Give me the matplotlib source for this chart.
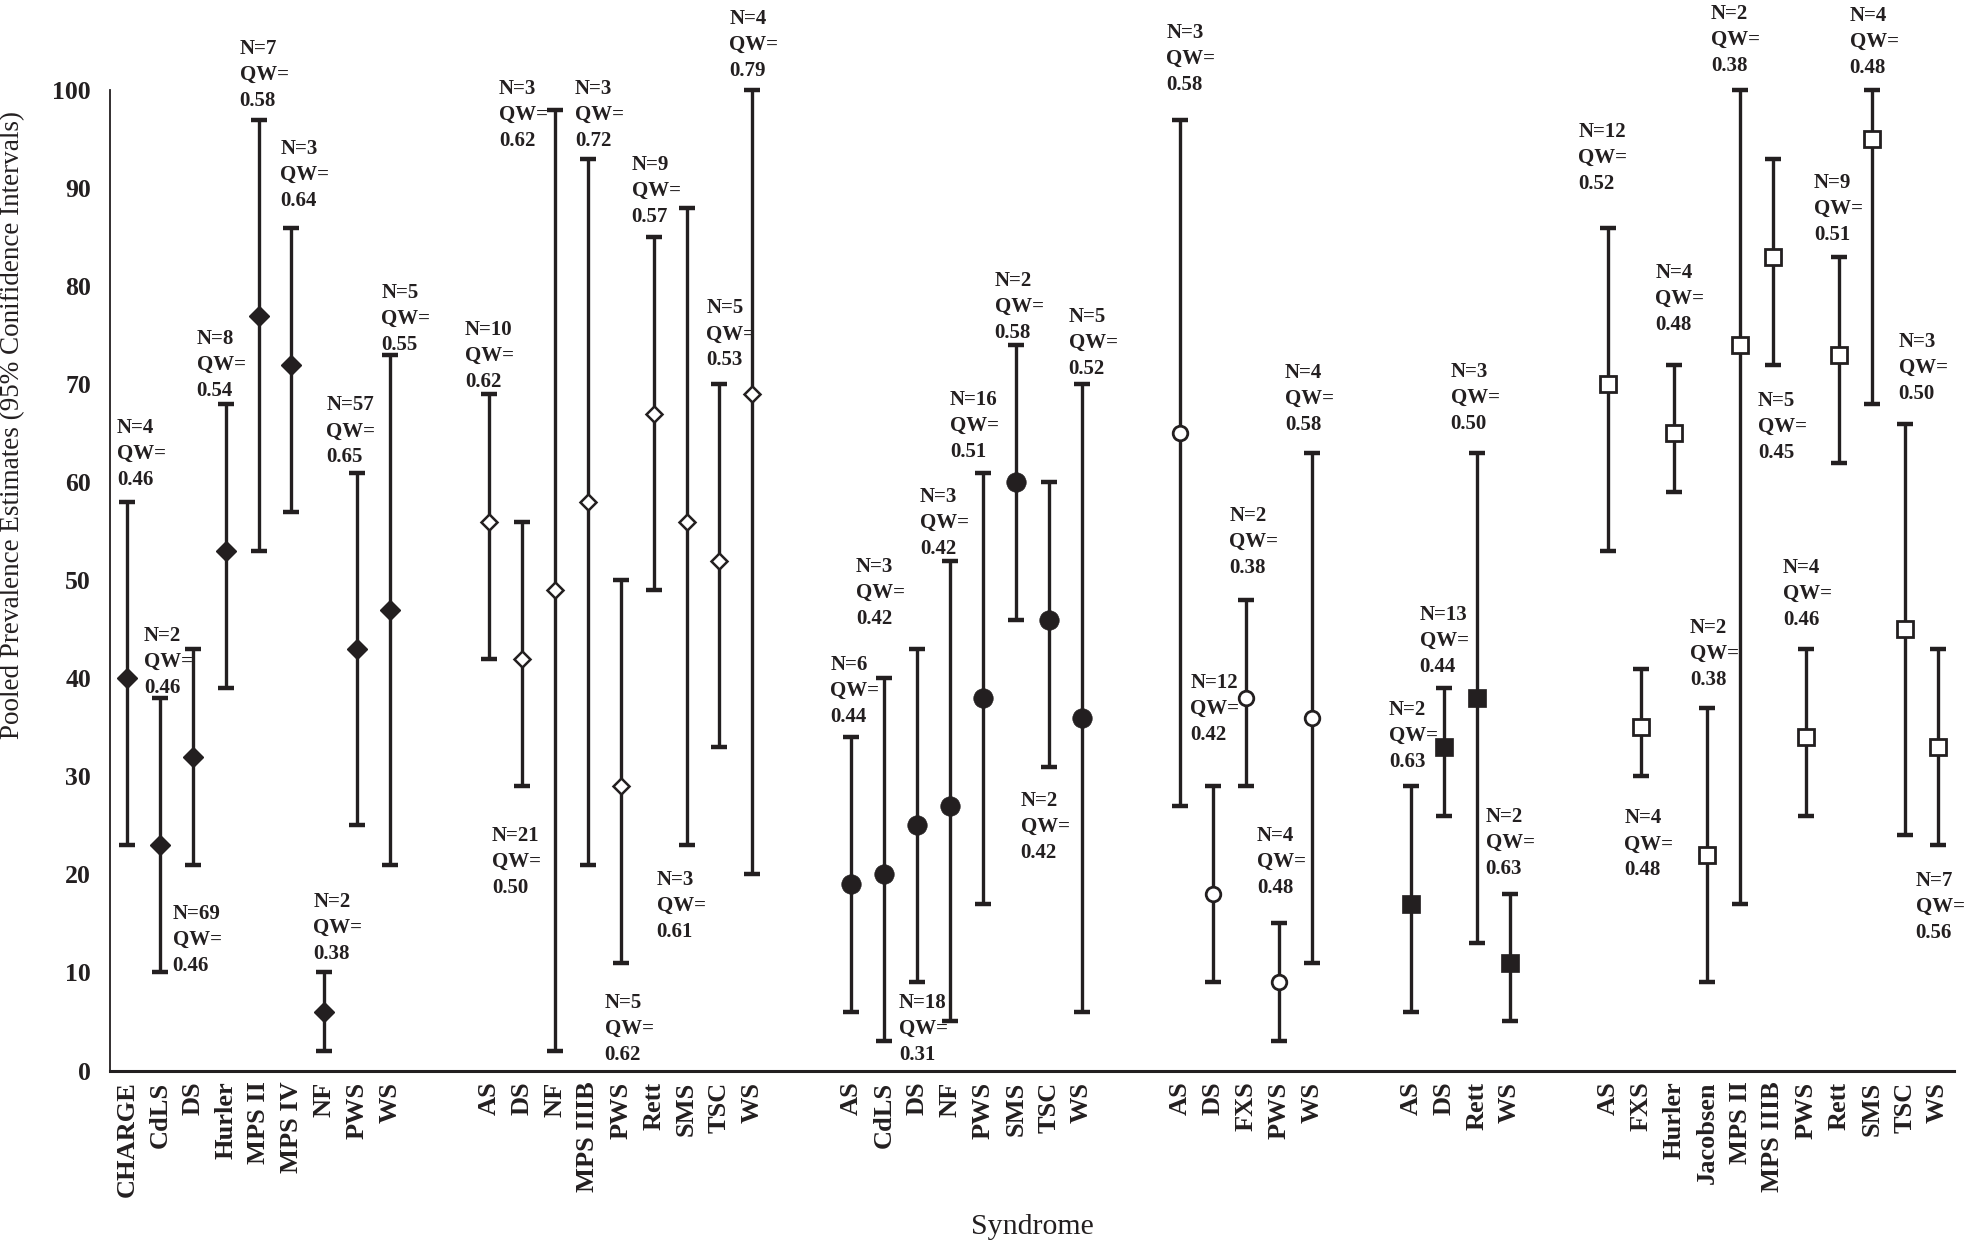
import matplotlib
matplotlib.use("Agg")
import matplotlib.pyplot as plt

INK = "#231f20"
plt.rcParams['font.family'] = ['Liberation Serif', 'DejaVu Serif']

# ---------------- data ----------------
g1_names = ["CHARGE", "CdLS", "DS", "Hurler", "MPS II", "MPS IV", "NF", "PWS", "WS"]
g1_mean = [40, 23, 32, 53, 77, 72, 6, 43, 47]
g1_low = [23, 10, 21, 39, 53, 57, 2, 25, 21]
g1_high = [58, 38, 43, 68, 97, 86, 10, 61, 73]
g1_n = [4, 2, 69, 8, 7, 3, 2, 57, 5]
g1_qw = ["0.46", "0.46", "0.46", "0.54", "0.58", "0.64", "0.38", "0.65", "0.55"]

g2_names = ["AS", "DS", "NF", "MPS IIIB", "PWS", "Rett", "SMS", "TSC", "WS"]
g2_mean = [56, 42, 49, 58, 29, 67, 56, 52, 69]
g2_low = [42, 29, 2, 21, 11, 49, 23, 33, 20]
g2_high = [69, 56, 98, 93, 50, 85, 88, 70, 100]
g2_n = [10, 21, 3, 3, 5, 9, 3, 5, 4]
g2_qw = ["0.62", "0.50", "0.62", "0.72", "0.62", "0.57", "0.61", "0.53", "0.79"]

g3_names = ["AS", "CdLS", "DS", "NF", "PWS", "SMS", "TSC", "WS"]
g3_mean = [19, 20, 25, 27, 38, 60, 46, 36]
g3_low = [6, 3, 9, 5, 17, 46, 31, 6]
g3_high = [34, 40, 43, 52, 61, 74, 60, 70]
g3_n = [6, 3, 18, 3, 16, 2, 2, 5]
g3_qw = ["0.44", "0.42", "0.31", "0.42", "0.51", "0.58", "0.42", "0.52"]

g4_names = ["AS", "DS", "FXS", "PWS", "WS"]
g4_mean = [65, 18, 38, 9, 36]
g4_low = [27, 9, 29, 3, 11]
g4_high = [97, 29, 48, 15, 63]
g4_n = [3, 12, 2, 4, 4]
g4_qw = ["0.58", "0.42", "0.38", "0.48", "0.58"]

g5_names = ["AS", "DS", "Rett", "WS"]
g5_mean = [17, 33, 38, 11]
g5_low = [6, 26, 13, 5]
g5_high = [29, 39, 63, 18]
g5_n = [2, 13, 3, 2]
g5_qw = ["0.63", "0.44", "0.50", "0.63"]

g6_names = ["AS", "FXS", "Hurler", "Jacobsen", "MPS II", "MPS IIIB", "PWS", "Rett", "SMS", "TSC", "WS"]
g6_mean = [70, 35, 65, 22, 74, 83, 34, 73, 95, 45, 33]
g6_low = [53, 30, 59, 9, 17, 72, 26, 62, 68, 24, 23]
g6_high = [86, 41, 72, 37, 100, 93, 43, 83, 100, 66, 43]
g6_n = [12, 4, 4, 2, 2, 5, 4, 9, 4, 3, 7]
g6_qw = ["0.52", "0.48", "0.48", "0.38", "0.38", "0.45", "0.46", "0.51", "0.48", "0.50", "0.56"]

# ---------------- layout / style (not data) ----------------
# label placement: (side, dx pixels, gap pixels)
g1_lab = [('a', -10, 17), ('a', -16, 5), ('b', -20, 39), ('a', -29, 7.5), ('a', -19, 13),
          ('a', -11, 21.5), ('a', -11, 13), ('a', -31, 9.7), ('a', -9, 5)]
g2_lab = [('a', -24, 7), ('b', -30, 40), ('a', -56, -36), ('a', -13, 13), ('b', -16, 30),
          ('a', -22, 15), ('b', -30, 25), ('a', -13, 18.5), ('a', -23, 14)]
g3_lab = [('a', -21, 14.6), ('a', -28, 54), ('b', -18, 11), ('a', -30, 6), ('a', -33, 15),
          ('a', -21, 6.6), ('b', -28, 24), ('a', -13, 9.6)]
g4_lab = [('a', -14, 29), ('a', -23, 46), ('a', -17, 27), ('a', -22, 30), ('a', -27, 23)]
g5_lab = [('a', -22, 19), ('a', -24, 16), ('a', -26, 24), ('a', -24, 20)]
g6_lab = [('a', -30, 38), ('b', -17, 32), ('a', -19, 34), ('a', -17, 22.5), ('a', -29, 18.6),
          ('b', -15, 26), ('a', -23, 23.6), ('a', -25, 17), ('a', -22, 17), ('a', -6, 24),
          ('b', -22, 26)]

styles = [
    dict(marker='D', ms=10, mfc=INK, mec=INK, mew=1),
    dict(marker='D', ms=8, mfc='white', mec=INK, mew=1.8),
    dict(marker='o', ms=14, mfc=INK, mec=INK, mew=0.5),
    dict(marker='o', ms=10.5, mfc='white', mec=INK, mew=2),
    dict(marker='s', ms=13, mfc=INK, mec=INK, mew=0.5),
    dict(marker='s', ms=11, mfc='white', mec=INK, mew=2),
]

groups = [
    (g1_names, g1_mean, g1_low, g1_high, g1_n, g1_qw, g1_lab),
    (g2_names, g2_mean, g2_low, g2_high, g2_n, g2_qw, g2_lab),
    (g3_names, g3_mean, g3_low, g3_high, g3_n, g3_qw, g3_lab),
    (g4_names, g4_mean, g4_low, g4_high, g4_n, g4_qw, g4_lab),
    (g5_names, g5_mean, g5_low, g5_high, g5_n, g5_qw, g5_lab),
    (g6_names, g6_mean, g6_low, g6_high, g6_n, g6_qw, g6_lab),
]
GAP = 2

W, H = 1968, 1244
fig = plt.figure(figsize=(W / 100, H / 100), dpi=100)
ax = fig.add_axes([110.4 / W, 1 - 1070.5 / H, (1954 - 110.4) / W, (1070.5 - 90.4) / H])

tick_pos, tick_lab = [], []
start = 0
for gi, (names, mean, low, high, ns, qws, labs) in enumerate(groups):
    xs = list(range(start, start + len(names)))
    tick_pos += xs
    tick_lab += names
    yerr = [[m - l for m, l in zip(mean, low)], [h - m for m, h in zip(mean, high)]]
    cont = ax.errorbar(xs, mean, yerr=yerr, fmt='none', ecolor=INK, elinewidth=2.4,
                       capsize=6, capthick=3.2, zorder=2)
    for art in cont.get_children():
        art.set_clip_on(False)
    ax.plot(xs, mean, linestyle='none', zorder=3, clip_on=False, **styles[gi])
    for x, lo, hi, n, qw, (side, dx, gap) in zip(xs, low, high, ns, qws, labs):
        txt = f"N={n}\nQW=\n{qw}"
        if side == 'a':
            ax.annotate(txt, xy=(x, hi), xytext=(dx, gap - 4.5), textcoords='offset pixels',
                        ha='left', va='bottom', fontsize=15, fontweight='bold', color=INK,
                        linespacing=1.4, annotation_clip=False)
        else:
            ax.annotate(txt, xy=(x, lo), xytext=(dx, -gap), textcoords='offset pixels',
                        ha='left', va='top', fontsize=15, fontweight='bold', color=INK,
                        linespacing=1.4, annotation_clip=False)
    start += len(names) + GAP

ax.set_xlim(-0.5, start - GAP - 0.5)
ax.set_ylim(0, 100)
ax.set_yticks(range(0, 101, 10))
ax.set_xticks(tick_pos)
ax.set_xticklabels(tick_lab, rotation=90, va='top', ha='center')
ax.tick_params(axis='y', length=0, pad=14, labelsize=18.5, labelcolor=INK)
ax.tick_params(axis='x', length=0, pad=8, labelsize=19, labelcolor=INK)
for lab in ax.get_xticklabels() + ax.get_yticklabels():
    lab.set_fontweight('bold')

for s in ('top', 'right'):
    ax.spines[s].set_visible(False)
ax.spines['left'].set_linewidth(1.3)
ax.spines['left'].set_color(INK)
ax.spines['bottom'].set_linewidth(2.2)
ax.spines['bottom'].set_color(INK)

fig.text(13 / W, 1 - 425 / H, "Pooled Prevalence Estimates (95% Conifidence Intervals)",
         rotation=90, ha='center', va='center', fontsize=19.5, color=INK)
fig.text(1032 / W, 1 - 1227 / H, "Syndrome", ha='center', va='center', fontsize=21.5, color=INK)

fig.savefig("out.png", dpi=100)
